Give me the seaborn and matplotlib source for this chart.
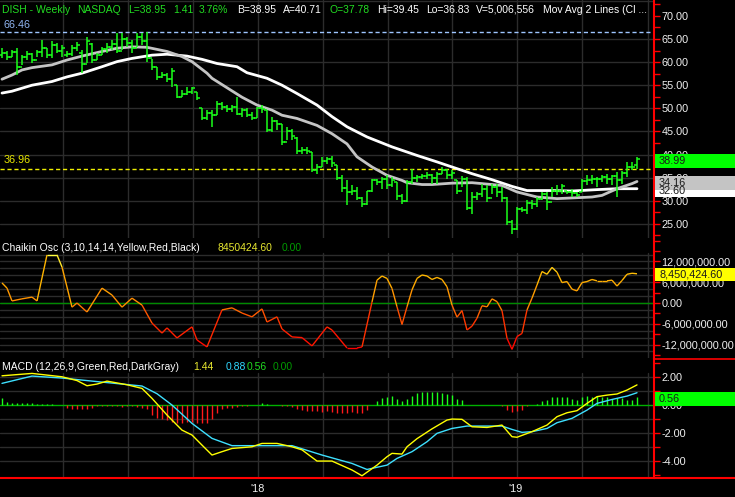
import numpy as np
import matplotlib
matplotlib.use("Agg")
import matplotlib.pyplot as plt
import seaborn as sns
from matplotlib.collections import LineCollection
from matplotlib.colors import LinearSegmentedColormap, Normalize
from matplotlib.patches import Rectangle
from matplotlib.ticker import FixedLocator, MultipleLocator, FuncFormatter
import matplotlib.transforms as mtransforms

sns.set_style("dark")
plt.rcParams["font.family"] = ["Liberation Sans", "DejaVu Sans"]

# ---- weekly OHLC bars (DISH, weekly) ----
bar_high = [63.0, 62.3, 62.6, 63.0, 61.5, 62.3, 61.9, 62.6, 64.8, 63.0, 64.6, 64.1, 63.7, 62.3, 63.7, 64.4,
            62.6, 65.5, 64.1, 61.9, 63.3, 64.1, 64.8, 66.2, 66.4, 65.5, 64.8, 66.2, 66.4, 66.46,
            60.6, 59.0, 57.9, 57.6, 58.65, 55.0, 53.95, 54.7, 54.7, 53.6, 50.0, 49.6, 49.6, 51.6,
            51.4, 50.7, 50.7, 52.5, 50.0, 50.0, 49.3, 50.35, 50.7, 49.6, 48.2, 47.45, 46.7, 46.0,
            45.6, 43.8, 41.65, 41.65, 40.6, 38.05, 39.5, 39.5, 39.6, 37.7, 35.5, 34.55, 33.3, 32.95,
            30.8, 32.2, 34.8, 34.8, 35.1, 35.5, 35.1, 34.05, 31.5, 34.4, 36.95, 35.5, 35.85, 36.2,
            35.85, 36.2, 37.3, 36.95, 36.6, 34.55, 35.3, 35.1, 31.9, 31.9, 33.7, 33.3, 33.7, 33.7,
            32.95, 30.8, 25.8, 28.6, 28.6, 30.1, 30.1, 30.8, 31.9, 31.9, 32.95, 33.3, 33.7, 32.2,
            32.6, 31.9, 34.8, 35.5, 35.5, 35.1, 35.5, 35.7, 35.5, 36.2, 36.4, 38.4, 38.4, 39.45]
bar_low = [60.8, 60.5, 61.2, 57.2, 59.4, 60.5, 59.7, 61.2, 61.2, 60.8, 60.8, 61.9, 61.2, 61.2, 61.3, 62.3,
           57.6, 59.7, 59.7, 60.5, 61.5, 61.9, 62.6, 61.9, 62.6, 63.3, 61.9, 63.3, 63.7, 60.1,
           58.3, 56.1, 56.5, 55.8, 54.7, 52.15, 52.5, 52.9, 53.2, 51.8, 47.45, 47.45, 46.0, 48.6,
           49.6, 49.3, 49.3, 48.5, 48.2, 48.2, 47.45, 47.8, 48.9, 44.9, 44.9, 45.25, 42.0, 43.1,
           43.1, 40.2, 40.2, 40.2, 36.2, 35.85, 37.3, 38.05, 37.3, 34.4, 31.9, 29.0, 31.15, 30.1,
           28.6, 29.0, 31.9, 33.3, 32.6, 32.6, 32.95, 30.1, 29.35, 29.7, 33.7, 34.05, 34.8, 34.8,
           33.7, 33.7, 35.85, 34.8, 34.8, 31.5, 32.95, 27.9, 27.2, 30.1, 30.8, 29.7, 31.5, 30.8,
           29.7, 24.7, 22.9, 23.6, 27.5, 27.2, 28.3, 28.6, 30.1, 27.9, 30.8, 31.15, 31.5, 31.5,
           30.8, 30.8, 31.9, 33.3, 33.7, 32.95, 34.05, 33.7, 33.3, 30.8, 33.7, 35.1, 36.7, 36.83]
bar_open = [61.5, 62.0, 61.0, 62.2, 59.0, 61.0, 61.8, 60.5, 62.2, 63.0, 61.5, 63.8, 62.5, 61.5, 61.8, 63.0,
            62.0, 59.5, 64.0, 60.5, 61.5, 62.8, 63.2, 64.0, 62.5, 65.0, 64.2, 63.0, 65.5, 64.5,
            60.8, 59.0, 56.8, 57.2, 56.3, 55.0, 52.5, 53.2, 53.6, 53.6, 50.0, 48.0, 49.0, 48.6,
            51.0, 50.3, 49.8, 50.3, 48.8, 49.6, 48.6, 47.8, 50.0, 49.6, 45.3, 47.3, 46.5, 42.8,
            45.0, 43.5, 40.8, 41.0, 40.6, 36.6, 37.2, 38.6, 39.0, 37.7, 35.0, 32.8, 31.8, 32.0,
            30.6, 29.2, 32.0, 34.4, 34.0, 34.7, 33.4, 34.0, 31.0, 30.0, 34.0, 35.0, 35.2, 35.4,
            35.6, 35.0, 35.8, 36.7, 35.5, 34.5, 32.2, 34.8, 28.5, 30.8, 31.5, 32.5, 30.6, 33.0,
            31.8, 30.5, 25.3, 23.8, 28.2, 28.0, 29.5, 29.2, 30.3, 31.5, 29.8, 32.2, 32.0, 32.0,
            31.8, 31.6, 31.9, 34.3, 34.4, 34.8, 34.6, 35.2, 34.8, 35.3, 34.5, 36.0, 37.2, 37.78]
bar_close = [62.0, 61.0, 62.2, 59.0, 61.0, 61.8, 60.5, 62.2, 63.0, 61.5, 63.8, 62.5, 63.0, 61.8, 63.0, 63.8,
             59.5, 64.5, 60.5, 61.5, 62.8, 63.2, 64.0, 62.5, 65.0, 64.2, 63.0, 65.5, 64.5, 60.8,
             59.0, 56.8, 57.2, 56.3, 58.0, 52.5, 53.2, 53.6, 54.3, 52.2, 48.0, 49.0, 48.6, 51.0,
             50.3, 49.8, 50.3, 48.8, 49.6, 48.6, 47.8, 50.0, 49.8, 45.3, 47.3, 46.5, 42.8, 45.0,
             44.0, 40.8, 41.0, 40.8, 36.6, 37.2, 38.6, 39.0, 38.2, 35.0, 32.8, 31.8, 32.0, 30.6,
             29.2, 32.0, 34.4, 34.0, 34.7, 33.4, 34.5, 31.0, 30.0, 34.0, 35.0, 35.2, 35.4, 35.6,
             35.0, 35.8, 36.7, 35.5, 36.0, 32.2, 34.8, 28.5, 30.8, 31.5, 32.5, 30.6, 33.0, 31.8,
             30.5, 25.3, 23.8, 28.2, 28.0, 29.5, 29.2, 30.3, 31.5, 29.8, 32.2, 32.0, 33.2, 31.8,
             31.6, 31.2, 34.3, 34.4, 34.8, 34.6, 35.2, 34.8, 35.3, 34.5, 36.0, 37.2, 37.4, 38.95]
weeks = np.arange(len(bar_close))

# ---- moving averages (read at sample weeks) ----
ma_fast_week = [0, 2, 4, 6, 10, 13, 16, 20, 23, 26, 29, 33, 36, 38, 41, 42, 48, 51, 54, 56, 59, 63, 66,
                69, 71, 74, 77, 80, 81, 84, 86, 90, 94, 96, 100, 103, 107, 111, 114, 118, 120, 123, 126, 127]
ma_fast = [56.3, 57.2, 58.3, 58.8, 59.4, 60.45, 61.3, 62.3, 63.0, 63.3, 63.2, 62.3, 61.2, 60.1, 57.6, 56.5,
           52.4, 50.7, 49.6, 48.5, 47.8, 46.3, 44.5, 42.3, 39.5, 37.3, 35.5, 34.4, 33.9, 33.5, 33.5,
           33.8, 33.9, 33.7, 33.3, 31.9, 30.8, 30.45, 30.6, 30.8, 31.15, 32.6, 33.7, 34.16]
ma_slow_week = [0, 2, 6, 10, 13, 16, 20, 23, 26, 30, 33, 37, 40, 43, 47, 49, 53, 56, 59, 63, 66, 69, 73,
                78, 83, 87, 90, 94, 98, 102, 105, 110, 114, 119, 123, 127]
ma_slow = [53.3, 53.7, 55.0, 55.8, 56.8, 57.6, 59.0, 60.1, 60.8, 61.5, 61.7, 61.3, 60.6, 59.7, 59.0, 57.7,
           56.5, 55.0, 53.2, 50.7, 48.2, 46.0, 43.8, 41.65, 39.8, 38.4, 37.3, 35.85, 34.55, 33.1, 32.2,
           32.2, 32.1, 32.4, 32.6, 32.6]

# ---- Chaikin oscillator (millions) ----
chaikin_week = [0, 1, 2, 4, 6, 7, 9, 11, 12, 14, 15, 17, 20, 22, 24, 26, 28, 30, 32, 33, 35, 38, 39, 41,
                44, 46, 48, 50, 52, 53, 55, 56, 58, 60, 62, 65, 66, 69, 71, 72, 74, 75,
                76, 77, 78, 79, 80, 81, 82, 83, 84, 85, 86, 87, 88, 89, 90, 91, 92, 93, 94, 95, 96, 97,
                98, 99, 100, 101, 102, 103, 104, 105, 106, 107, 108, 109, 110, 111, 112, 113, 114, 115,
                116, 117, 118, 119, 120, 121, 122, 123, 124, 125, 126, 127]
chaikin_m = [5.8, 4.3, 0.6, 1.2, 1.7, 0.6, 13.9, 13.9, 10.4, -1.2, 0.0, -2.6, 4.3, 2.3, -1.2, 1.4, -0.6,
             -5.8, -8.7, -7.2, -10.1, -6.9, -10.7, -12.7, -2.0, -1.4, -2.9, -4.0, -1.7, -5.5, -4.0, -7.5,
             -9.8, -10.0, -12.4, -6.9, -7.8, -13.0, -13.0, -12.7, 0.3, 6.6,
             7.8, 7.1, 4.2, -1.1, -6.2, -1.1, 3.8, 7.1, 8.1, 7.8, 6.8, 7.4, 6.8, 4.7, -0.6, -4.1, -2.2,
             -7.8, -6.7, -4.4, -0.8, -1.1, 1.2, 0.4, -2.2, -10.2, -13.4, -9.7, -8.8, -2.0, 1.4, 5.2,
             9.1, 8.3, 10.3, 8.9, 5.9, 6.2, 4.0, 3.5, 5.9, 6.2, 6.8, 6.4, 6.4, 6.4, 6.6, 4.9, 6.5,
             8.3, 8.6, 8.45]

# ---- MACD (12,26,9) ----
macd_week = [0, 6, 12, 15, 17, 19, 21, 25, 28, 30, 33, 36, 38, 40, 42, 44, 46, 50, 52, 55, 58, 60, 63,
             66, 70, 72, 75, 77, 78, 80, 81, 83, 86, 89, 90, 92, 94, 97, 100, 102, 103, 106, 109, 111,
             113, 115, 117, 119, 121, 123, 125, 127]
macd_line = [2.09, 2.26, 2.02, 1.75, 1.38, 1.5, 1.71, 1.45, 1.19, 0.48, -0.71, -1.79, -2.14, -2.86,
             -3.57, -3.33, -3.1, -2.98, -2.74, -2.74, -2.98, -3.2, -4.0, -4.0, -4.64, -5.05, -4.29,
             -3.69, -3.45, -3.5, -2.98, -2.4, -1.7, -1.07, -1.0, -1.02, -1.55, -1.6, -1.43, -2.26,
             -2.3, -1.9, -1.43, -0.83, -0.55, -0.4, 0.12, 0.6, 0.71, 0.79, 1.07, 1.44]
signal_week = [0, 6, 12, 20, 28, 31, 34, 38, 42, 46, 52, 58, 64, 70, 73, 77, 79, 82, 85, 87, 90, 93,
               97, 100, 102, 104, 106, 109, 111, 114, 117, 119, 122, 125, 127]
signal_line = [1.55, 2.07, 1.93, 1.64, 1.36, 0.81, 0.0, -1.31, -2.38, -2.9, -2.9, -2.9, -3.57, -4.17,
               -4.6, -4.29, -3.81, -3.33, -2.62, -2.02, -1.67, -1.5, -1.5, -1.5, -1.74, -1.95, -1.9,
               -1.67, -1.26, -0.95, -0.36, 0.12, 0.4, 0.64, 0.88]
macd_hist = [0.48, 0.24, 0.17, 0.12, 0.12, 0.12, 0.17, 0.07, 0.05, 0.05, 0.04, 0.03, 0.02,
             -0.24, -0.3, -0.3, -0.3, -0.3, -0.2,
             -0.05, -0.04, -0.05, -0.04, -0.05,
             -0.15, -0.1, -0.1, -0.15, -0.2, -0.3,
             -0.7, -0.9, -1.0, -1.1, -1.2, -1.3, -1.3, -1.2, -1.2, -1.3, -1.3, -1.3, -1.0,
             -0.6, -0.3, -0.2, -0.2, -0.15, -0.1, -0.05, -0.03, 0.03,
             0.15, 0.04, 0.03, -0.03, -0.04, -0.05, -0.15,
             -0.3, -0.35, -0.4, -0.4, -0.45, -0.5, -0.45, -0.5, -0.55, -0.6, -0.55, -0.5, -0.6, -0.6,
             -0.35, 0.02,
             0.3, 0.5,
             0.55, 0.62, 0.45, 0.31, 0.45, 0.67, 0.86, 0.9, 0.9, 0.9, 0.9, 0.86, 0.81, 0.69, 0.45, 0.38,
             0.03, 0.02, -0.02, -0.03, -0.02, 0.02, -0.02, -0.05, -0.33, -0.52, -0.45, -0.33, -0.1,
             0.02, 0.1, 0.31, 0.38, 0.55, 0.55, 0.55, 0.55, 0.43, 0.38, 0.55, 0.62, 0.55, 0.62, 0.55,
             0.55, 0.43, 0.5, 0.5, 0.38, 0.38, 0.56]

price_ticks = [25, 30, 35, 40, 45, 50, 55, 60, 65, 70]
chaikin_ticks = [-12e6, -6e6, 0, 6e6, 12e6]
macd_ticks = [-4, -2, 0, 2]
year_labels = ["'18", "'19"]

# ---- layout (pixels of a 735x497 canvas) ----
W, H = 735, 497
PLOT_R = 654
grid_weeks = [12.2, 25.2, 38.2, 51.2, 64.2, 77.2, 90.0, 103.0, 116.0, 129.2]
year_weeks = [51.2, 102.8]
XLIM = (-0.4, 130.4)
GRID = "#2c2c2c"
AX_RED = "#ff0000"
TXT = "#f0f0f0"
GREEN = "#1aff1a"


def fy(y):
    return 1 - y / H


fig = plt.figure(figsize=(W / 100, H / 100), dpi=100, facecolor="black")
ax_p = fig.add_axes([0, fy(238), PLOT_R / W, 238 / H])
ax_c = fig.add_axes([0, fy(358), PLOT_R / W, (358 - 239) / H])
ax_m = fig.add_axes([0, fy(478), PLOT_R / W, (478 - 359) / H])


def style_axis(ax, ylim, ticks, minor, fmt, grid_levels, grid_top):
    ax.set_facecolor("black")
    ax.set_xlim(*XLIM)
    ax.set_ylim(*ylim)
    ax.grid(False)
    ax.yaxis.tick_right()
    ax.yaxis.set_major_locator(FixedLocator(ticks))
    ax.yaxis.set_minor_locator(MultipleLocator(minor))
    ax.yaxis.set_major_formatter(FuncFormatter(fmt))
    ax.tick_params(axis="y", which="both", direction="out", colors=AX_RED, labelcolor=TXT,
                   labelsize=7.8, pad=1.5, width=1, length=4)
    for t in grid_levels:
        ax.axhline(t, color=GRID, lw=1.0, zorder=0)
    for gx in grid_weeks:
        ax.axvline(gx, ymin=0, ymax=grid_top, color=GRID, lw=1.0, zorder=0)
    for s in ["top", "left", "bottom"]:
        ax.spines[s].set_visible(False)
    ax.spines["right"].set_color(AX_RED)
    ax.spines["right"].set_linewidth(1.5)
    ax.set_xticks([])


# ---- price panel ----
style_axis(ax_p, (21.93, 73.44), price_ticks, 2.5, lambda v, p: f"{v:.2f}",
           [25, 30, 35, 40, 45, 50, 55, 60, 65, 73.2], 1.0)
ax_p.axhline(66.46, color="#9ec5ff", lw=1.0, ls=(0, (3, 2)), zorder=1)
ax_p.axhline(36.96, color="#f0f000", lw=1.0, ls=(0, (3, 2)), zorder=1)
ax_p.text(0.3, 68.0, "66.46", color="#8fb4f0", fontsize=7.8, va="center", ha="left")
ax_p.text(0.3, 38.8, "36.96", color="#e8e800", fontsize=7.8, va="center", ha="left")

ax_p.vlines(weeks, bar_low, bar_high, color=GREEN, lw=1.1, zorder=3)
ax_p.hlines(bar_open, weeks - 0.55, weeks, color=GREEN, lw=1.1, zorder=3)
ax_p.hlines(bar_close, weeks, weeks + 0.55, color=GREEN, lw=1.1, zorder=3)

sns.lineplot(x=ma_slow_week, y=ma_slow, ax=ax_p, color="white", lw=2.0, zorder=2)
sns.lineplot(x=ma_fast_week, y=ma_fast, ax=ax_p, color="#c4c4c4", lw=2.0, zorder=2)
ax_p.set_xticks([])
ax_p.set_xlabel("")
ax_p.set_ylabel("")

# ---- Chaikin panel ----
style_axis(ax_c, (-15.9e6, 18.5e6), chaikin_ticks, 3e6, lambda v, p: f"{v:,.2f}",
           np.arange(-14e6, 14.1e6, 2e6), 0.88)
ax_c.axhline(0, color="#008a00", lw=1.0, zorder=1)
cmap = LinearSegmentedColormap.from_list(
    "chaikin", [(0.0, "#ff0000"), (0.30, "#ff3a00"), (0.48, "#ff8a00"), (0.78, "#ffb800"), (1.0, "#ffff40")])
norm = Normalize(-13e6, 14e6)
chaikin = np.array(chaikin_m) * 1e6
pts = np.column_stack([chaikin_week, chaikin])
segs = np.stack([pts[:-1], pts[1:]], axis=1)
seg_vals = (pts[:-1, 1] + pts[1:, 1]) / 2
ax_c.add_collection(LineCollection(segs, colors=cmap(norm(seg_vals)), linewidths=1.0, zorder=3))

# ---- MACD panel ----
style_axis(ax_m, (-5.21, 3.29), macd_ticks, 1, lambda v, p: f"{v:.2f}",
           [-4, -3, -2, -1, 1, 2], 0.88)
ax_m.axhline(0, color="#00b000", lw=1.0, zorder=1)
hist = np.array(macd_hist)
hist_colors = [GREEN if v >= 0 else "#ff1a1a" for v in hist]
ax_m.vlines(weeks, 0, hist, colors=hist_colors, lw=1.0, zorder=2)
sns.lineplot(x=signal_week, y=signal_line, ax=ax_m, color="#3ee0ff", lw=1.0, zorder=3)
sns.lineplot(x=macd_week, y=macd_line, ax=ax_m, color="#ffff00", lw=1.0, zorder=4)
ax_m.set_xlabel("")
ax_m.set_ylabel("")
ax_m.spines["bottom"].set_visible(True)
ax_m.spines["bottom"].set_color(AX_RED)
ax_m.spines["bottom"].set_linewidth(1.5)
ax_m.set_xticks(grid_weeks)
ax_m.set_xticklabels([""] * len(grid_weeks))
ax_m.tick_params(axis="x", which="major", direction="out", length=3, colors="#606060")
xtr = mtransforms.blended_transform_factory(ax_m.transData, ax_m.transAxes)
for wk, lab in zip(year_weeks, year_labels):
    ax_m.text(wk, -0.09, lab, transform=xtr, color=TXT, fontsize=7.8, ha="center", va="center")


# ---- value boxes on the right scale ----
def value_box(ax, y_center, height, face, label):
    tr = mtransforms.blended_transform_factory(fig.transFigure, ax.transData)
    ax.add_patch(Rectangle((655 / W, y_center - height / 2), (W - 655) / W, height, transform=tr,
                           facecolor=face, edgecolor="none", clip_on=False, zorder=10))
    ax.text(659 / W, y_center, label, transform=tr, color="#1a1a1a", fontsize=7.8,
            ha="left", va="center", zorder=11, clip_on=False)


value_box(ax_p, 32.2, 3.0, "white", "32.60")
value_box(ax_p, 33.75, 3.0, "#c4c4c4", "34.16")
value_box(ax_p, 38.65, 3.0, "#00ff00", "38.99")
value_box(ax_c, 8.25e6, 3.8e6, "#ffff00", "8,450,424.60")
value_box(ax_m, 0.43, 1.0, "#00ff00", "0.56")

# red separators in the scale column
fig.add_artist(plt.Line2D([PLOT_R / W, 1], [fy(358.5), fy(358.5)], color=AX_RED, lw=1.2))
fig.add_artist(plt.Line2D([PLOT_R / W, 1], [fy(478), fy(478)], color=AX_RED, lw=1.5))


# ---- header texts ----
def header(x, y, s, color):
    fig.text(x / W, fy(y), s, color=color, fontsize=7.5, ha="left", va="center")


HG = "#22dd22"
header(2, 10, "DISH - Weekly", HG)
header(77, 10, "NASDAQ", HG)
header(128, 10, "L=38.95", HG)
header(173, 10, "1.41", HG)
header(199, 10, "3.76%", HG)
header(237, 10, "B=38.95", "white")
header(283, 10, "A=40.71", "white")
header(330, 10, "O=37.78", HG)
header(377, 10, "Hi=39.45", "white")
header(426, 10, "Lo=36.83", "white")
header(476, 10, "V=5,006,556", "white")
header(543, 10, "Mov Avg 2 Lines (Cl ...", "white")

header(2, 248, "Chaikin Osc (3,10,14,14,Yellow,Red,Black)", "white")
header(218, 248, "8450424.60", "#e8e830")
header(282, 248, "0.00", "#009a00")

header(2, 367, "MACD (12,26,9,Green,Red,DarkGray)", "white")
header(193, 367, "1.44", "#e8e830")
header(226, 367, "0.88", "#30d8ff")
header(247, 367, "0.56", HG)
header(273, 367, "0.00", "#009a00")

fig.savefig("out.png", dpi=100, facecolor="black")
